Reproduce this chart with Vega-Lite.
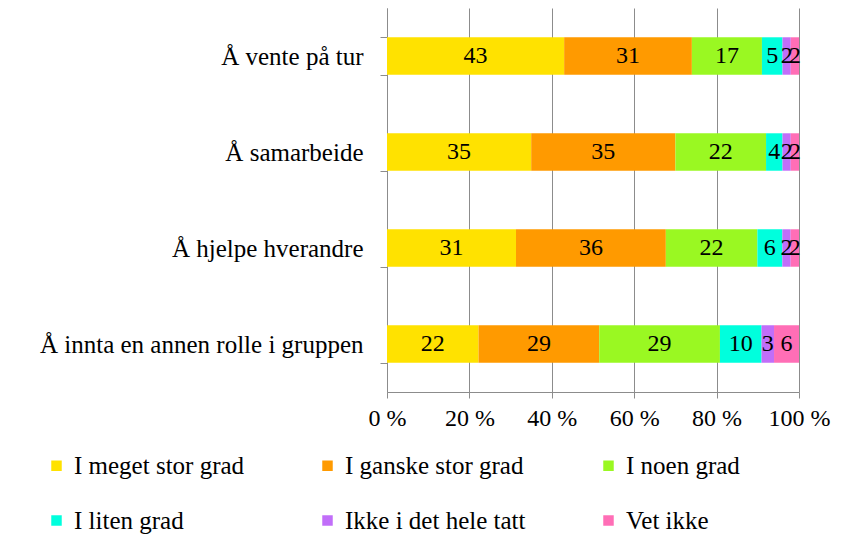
{
  "$schema": "https://vega.github.io/schema/vega-lite/v6.json",
  "width": 412,
  "height": 384,
  "autosize": {"type": "none"},
  "padding": {"left": 387, "top": 8, "right": 42, "bottom": 153},
  "background": "white",
  "config": {"font": "Liberation Serif", "view": {"stroke": null}},
  "data": {
    "values": [
      {"kategori": "Å vente på tur", "svar": "I meget stor grad", "rekkefolge": 1, "verdi": 43},
      {"kategori": "Å vente på tur", "svar": "I ganske stor grad", "rekkefolge": 2, "verdi": 31},
      {"kategori": "Å vente på tur", "svar": "I noen grad", "rekkefolge": 3, "verdi": 17},
      {"kategori": "Å vente på tur", "svar": "I liten grad", "rekkefolge": 4, "verdi": 5},
      {"kategori": "Å vente på tur", "svar": "Ikke i det hele tatt", "rekkefolge": 5, "verdi": 2},
      {"kategori": "Å vente på tur", "svar": "Vet ikke", "rekkefolge": 6, "verdi": 2},
      {"kategori": "Å samarbeide", "svar": "I meget stor grad", "rekkefolge": 1, "verdi": 35},
      {"kategori": "Å samarbeide", "svar": "I ganske stor grad", "rekkefolge": 2, "verdi": 35},
      {"kategori": "Å samarbeide", "svar": "I noen grad", "rekkefolge": 3, "verdi": 22},
      {"kategori": "Å samarbeide", "svar": "I liten grad", "rekkefolge": 4, "verdi": 4},
      {"kategori": "Å samarbeide", "svar": "Ikke i det hele tatt", "rekkefolge": 5, "verdi": 2},
      {"kategori": "Å samarbeide", "svar": "Vet ikke", "rekkefolge": 6, "verdi": 2},
      {"kategori": "Å hjelpe hverandre", "svar": "I meget stor grad", "rekkefolge": 1, "verdi": 31},
      {"kategori": "Å hjelpe hverandre", "svar": "I ganske stor grad", "rekkefolge": 2, "verdi": 36},
      {"kategori": "Å hjelpe hverandre", "svar": "I noen grad", "rekkefolge": 3, "verdi": 22},
      {"kategori": "Å hjelpe hverandre", "svar": "I liten grad", "rekkefolge": 4, "verdi": 6},
      {"kategori": "Å hjelpe hverandre", "svar": "Ikke i det hele tatt", "rekkefolge": 5, "verdi": 2},
      {"kategori": "Å hjelpe hverandre", "svar": "Vet ikke", "rekkefolge": 6, "verdi": 2},
      {"kategori": "Å innta en annen rolle i gruppen", "svar": "I meget stor grad", "rekkefolge": 1, "verdi": 22},
      {"kategori": "Å innta en annen rolle i gruppen", "svar": "I ganske stor grad", "rekkefolge": 2, "verdi": 29},
      {"kategori": "Å innta en annen rolle i gruppen", "svar": "I noen grad", "rekkefolge": 3, "verdi": 29},
      {"kategori": "Å innta en annen rolle i gruppen", "svar": "I liten grad", "rekkefolge": 4, "verdi": 10},
      {"kategori": "Å innta en annen rolle i gruppen", "svar": "Ikke i det hele tatt", "rekkefolge": 5, "verdi": 3},
      {"kategori": "Å innta en annen rolle i gruppen", "svar": "Vet ikke", "rekkefolge": 6, "verdi": 6}
    ]
  },
  "transform": [
    {"stack": "verdi", "groupby": ["kategori"], "sort": [{"field": "rekkefolge", "order": "ascending"}], "as": ["v0", "v1"], "offset": "normalize"},
    {"calculate": "(datum.v0 + datum.v1) / 2", "as": "midt"}
  ],
  "encoding": {
    "y": {
      "field": "kategori",
      "type": "nominal",
      "sort": ["Å vente på tur", "Å samarbeide", "Å hjelpe hverandre", "Å innta en annen rolle i gruppen"],
      "scale": {"paddingInner": 0.61, "paddingOuter": 0.305},
      "axis": {
        "title": null,
        "tickBand": "extent",
        "tickSize": 7,
        "tickColor": "#8c8c8c",
        "domainColor": "#8c8c8c",
        "labelFontSize": 25,
        "labelColor": "black",
        "labelPadding": 17,
        "labelLimit": 400
      }
    }
  },
  "layer": [
    {
      "mark": {"type": "bar"},
      "encoding": {
        "x": {
          "field": "v0",
          "type": "quantitative",
          "scale": {"domain": [0, 1], "nice": false},
          "axis": {
            "title": null,
            "values": [0, 0.2, 0.4, 0.6, 0.8, 1],
            "labelExpr": "round(datum.value * 100) + ' %'",
            "grid": true,
            "gridColor": "#8c8c8c",
            "tickColor": "#8c8c8c",
            "domainColor": "#8c8c8c",
            "tickSize": 6,
            "labelFontSize": 24,
            "labelColor": "black",
            "labelPadding": 8,
            "labelFlush": false
          }
        },
        "x2": {"field": "v1"},
        "color": {
          "field": "svar",
          "type": "nominal",
          "scale": {
            "domain": ["I meget stor grad", "I ganske stor grad", "I noen grad", "I liten grad", "Ikke i det hele tatt", "Vet ikke"],
            "range": ["#FFE200", "#FF9A00", "#9AF822", "#00FFDD", "#C16EF9", "#FF6EB6"]
          },
          "legend": {
            "title": null,
            "orient": "none",
            "direction": "horizontal",
            "legendX": -343,
            "legendY": 445,
            "columns": 3,
            "symbolType": "square",
            "symbolSize": 110,
            "symbolStrokeWidth": 0,
            "labelFontSize": 25,
            "labelColor": "black",
            "labelOffset": 5,
            "labelLimit": 400,
            "rowPadding": 29,
            "columnPadding": 70
          }
        }
      }
    },
    {
      "mark": {"type": "text", "fontSize": 24, "color": "black"},
      "encoding": {
        "x": {"field": "midt", "type": "quantitative"},
        "text": {"field": "verdi", "type": "quantitative"}
      }
    }
  ]
}
